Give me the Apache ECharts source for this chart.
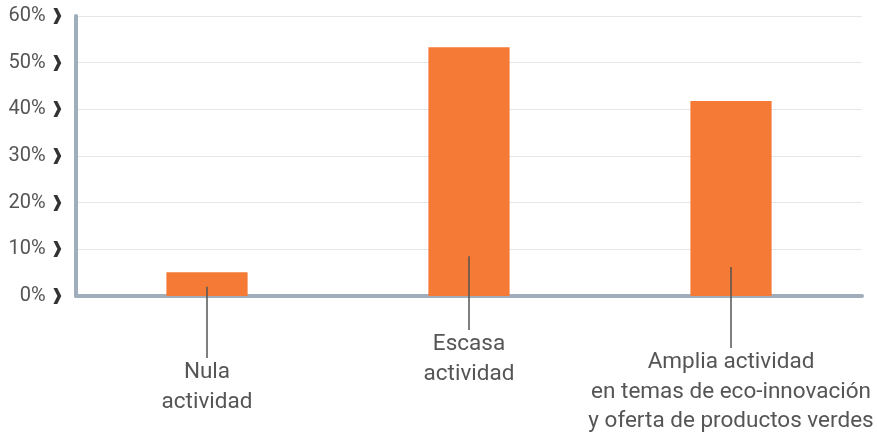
<!DOCTYPE html>
<html>
<head>
<meta charset="utf-8">
<script src="https://cdn.jsdelivr.net/npm/echarts@6/dist/echarts.min.js"></script>
<style>
  html, body { margin: 0; padding: 0; background: #fff; }
  #chart { width: 877px; height: 439px; }
</style>
</head>
<body>
<div id="chart"></div>
<script>
// datos
const categories = [
  'Nula\nactividad',
  'Escasa\nactividad',
  'Amplia actividad\nen temas de eco-innovación\ny oferta de productos verdes'
]
const values = [5.1, 53.3, 41.8]
// valor donde empieza la línea guía dentro de cada barra
const leaderFrom = [2, 8.5, 6.2]
const yTicks = [0, 10, 20, 30, 40, 50, 60]

// distancia en px bajo el eje donde termina cada línea guía
const labelDrop = [62, 34, 52]

const chart = echarts.init(document.getElementById('chart'))

const option = {
  animation: false,
  grid: { left: 76, right: 15, top: 16, bottom: 143 },
  xAxis: {
    type: 'category',
    data: categories,
    axisLine: { lineStyle: { color: '#a0aebb', width: 4 } },
    axisTick: { show: false },
    axisLabel: { show: false }
  },
  yAxis: {
    type: 'value',
    min: yTicks[0],
    max: yTicks[yTicks.length - 1],
    interval: 10,
    axisLine: { show: true, lineStyle: { color: '#a0aebb', width: 4 } },
    axisTick: { show: false },
    splitLine: { lineStyle: { color: '#e3e7ea', width: 1 } },
    axisLabel: {
      margin: 12,
      formatter: v => '{a|' + v + '%}{b|❱}',
      rich: {
        a: { fontFamily: 'Roboto', fontSize: 20, color: '#555' },
        b: { fontFamily: 'DejaVu Sans', fontSize: 16, fontWeight: 'bold', color: '#333', padding: [0, 0, 0, 5] }
      }
    }
  },
  series: [
    {
      type: 'bar',
      data: values,
      barWidth: '31%',
      itemStyle: { color: '#f47a36' }
    },
    {
      type: 'custom',
      data: values.map((v, i) => [i, v]),
      z: 5,
      renderItem: (params, api) => {
        const i = api.value(0)
        const base = api.coord([i, 0])
        const start = api.coord([i, leaderFrom[i]])
        const endY = base[1] + labelDrop[i]
        return {
          type: 'group',
          children: [
            {
              type: 'line',
              shape: { x1: start[0], y1: start[1], x2: start[0], y2: endY },
              style: { stroke: '#555', lineWidth: 1.5 }
            },
            {
              type: 'text',
              style: {
                text: categories[i],
                x: start[0],
                y: endY,
                align: 'center',
                verticalAlign: 'top',
                fontFamily: 'Roboto',
                fontSize: 22.5,
                lineHeight: 29.5,
                fill: '#555'
              }
            }
          ]
        }
      }
    }
  ]
}

chart.setOption(option)
</script>
</body>
</html>
